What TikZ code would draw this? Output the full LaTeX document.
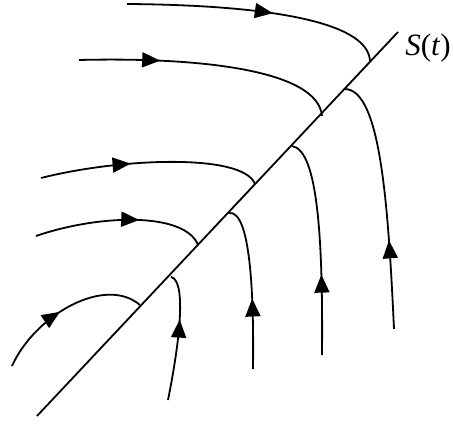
\documentclass[tikz,border=0pt]{standalone}
\usepackage{fontspec}
\setmainfont{Liberation Serif}
\usetikzlibrary{arrows.meta,decorations.markings}
\tikzset{
  flow/.style={line width=1.8pt,black},
  arr/.style={postaction={decorate},decoration={markings,
     mark=at position #1 with {\arrow{Triangle[length=18pt,width=15pt]}}}},
  front/.style={line width=1.8pt,black},
}
\begin{document}
\begin{tikzpicture}[x=1pt,y=-1pt]
\useasboundingbox (0,0) rectangle (453,425);
% the front S(t)
\coordinate (s0) at (37,416);
\coordinate (s1) at (398,32);
\draw[front] (s0) -- (s1);
\node[font=\fontsize{31}{34}\selectfont,inner sep=0pt] (lbl) at (428,48) {\textit{S}(\textit{t})};
% curves coming from the left
\coordinate (a1) at (127,4);   \coordinate (b1) at (370,61);
\coordinate (a2) at (79,60);   \coordinate (b2) at (322,116);
\coordinate (a3) at (41,178);  \coordinate (b3) at (255,184);
\coordinate (a4) at (36,236);  \coordinate (b4) at (198,245);
\coordinate (a5) at (12,366);  \coordinate (b5) at (140,305);
\draw[flow,arr=0.56] (a1) .. controls (260,5) and (368,20) .. (b1);
\draw[flow,arr=0.31] (a2) .. controls (200,57) and (318,70) .. (b2);
\draw[flow,arr=0.41] (a3) .. controls (120,158) and (243,153) .. (b3);
\draw[flow,arr=0.61] (a4) .. controls (100,214) and (185,212) .. (b4);
\draw[flow,arr=0.46] (a5) .. controls (35,315) and (105,275) .. (b5);
% curves coming from below
\coordinate (c1) at (394,329); \coordinate (d1) at (345,89);
\coordinate (c2) at (322,355); \coordinate (d2) at (292,146);
\coordinate (c3) at (253,369); \coordinate (d3) at (229,213);
\coordinate (c4) at (168,400); \coordinate (d4) at (171,277);
\draw[flow,arr=0.35] (c1) .. controls (388,200) and (380,90) .. (d1);
\draw[flow,arr=0.37] (c2) .. controls (323,240) and (318,150) .. (d2);
\draw[flow,arr=0.43] (c3) .. controls (254,290) and (250,210) .. (d3);
\draw[flow,arr=0.64] (c4) .. controls (182,330) and (185,280) .. (d4);
\end{tikzpicture}
\end{document}
